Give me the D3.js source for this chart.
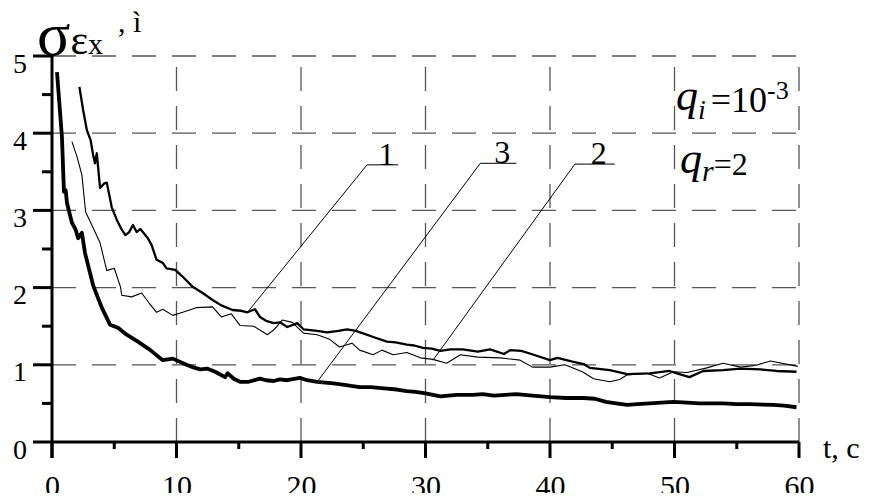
<!DOCTYPE html>
<html>
<head>
<meta charset="utf-8">
<script src="https://cdn.jsdelivr.net/npm/d3@7"></script>
<style>
body { margin: 0; background: #fff; color: #000; }
text { font-family: "Liberation Serif", "Times New Roman", serif; fill: #000; }
</style>
</head>
<body>
<div id="chart"></div>
<script>
// curve 1 (medium line)
var t1 = [2.2, 2.5, 2.8, 3.1, 3.3, 3.45, 3.6, 3.86, 4.2, 4.4, 4.8, 5.2, 5.6, 5.9, 6.2, 6.5, 6.8, 7.1, 7.7, 8.0,
          8.4, 8.9, 9.2, 9.9, 10.5, 11.3, 12.1, 12.9, 13.6, 14.5, 15.2, 15.7, 16.3, 16.7, 17.2, 17.8, 18.3, 18.9, 19.4, 19.7,
          20.2, 21.3, 22.1, 23.0, 23.7, 24.4, 25.1, 25.8, 26.9, 27.6, 28.5, 29.1, 29.8, 30.5, 31.2, 32.0, 33.0, 34.2, 35.2, 36.3,
          36.8, 37.7, 38.5, 40, 40.6, 41.8, 42.7, 43.2, 44.8, 46.2, 48, 49.6, 50.4, 51.2, 52.3, 53.9, 55.3, 56.9, 58.2, 59.8];
var s1 = [4.6, 4.3, 4.04, 3.91, 3.72, 3.61, 3.74, 3.29, 3.35, 3.36, 3.04, 2.88, 2.75, 2.68, 2.72, 2.81, 2.72, 2.76, 2.64, 2.55,
          2.36, 2.32, 2.25, 2.23, 2.14, 2.01, 1.93, 1.84, 1.77, 1.71, 1.70, 1.68, 1.72, 1.62, 1.57, 1.54, 1.55, 1.49, 1.52, 1.54,
          1.46, 1.44, 1.42, 1.44, 1.46, 1.44, 1.40, 1.36, 1.30, 1.29, 1.26, 1.25, 1.22, 1.21, 1.18, 1.20, 1.20, 1.17, 1.20, 1.14,
          1.19, 1.18, 1.14, 1.06, 1.09, 1.04, 1.01, 0.96, 0.93, 0.88, 0.89, 0.92, 0.88, 0.84, 0.92, 0.93, 0.95, 0.94, 0.92, 0.91];

// curve 2 (thin line)
var t2 = [1.6, 2.0, 2.4, 2.7, 3.0, 3.86, 4.4, 5.0, 5.5, 5.6, 6.4, 7.2, 7.8, 8.4, 8.9, 9.7, 10.5, 11.6, 12.9, 13.6,
          14.4, 15.1, 16.2, 17.3, 17.8, 18.5, 19.3, 20.2, 21.3, 22.3, 23.1, 24.1, 24.7, 25.8, 26.5, 27.4, 28.5, 29.6, 30.6, 31.7,
          32.8, 34.2, 36, 37.6, 38.6, 40, 41.2, 42.6, 43.5, 44.8, 45.6, 46.2, 47.8, 48.8, 49.9, 51, 52.6, 53.9, 55.3, 56.5,
          57.7, 59.9];
var s2 = [3.89, 3.7, 3.46, 2.98, 2.88, 2.58, 2.22, 2.25, 2.01, 1.90, 1.88, 1.93, 1.80, 1.68, 1.72, 1.64, 1.68, 1.74, 1.75, 1.62,
          1.66, 1.51, 1.50, 1.39, 1.45, 1.58, 1.55, 1.41, 1.39, 1.33, 1.23, 1.28, 1.19, 1.13, 1.19, 1.13, 1.16, 1.09, 1.07, 1.02,
          1.13, 1.10, 1.09, 1.06, 0.97, 0.97, 1.00, 0.91, 0.82, 0.78, 0.81, 0.87, 0.89, 0.83, 0.91, 0.90, 0.96, 1.02, 0.97, 0.99,
          1.05, 0.98];

// curve 3 (thick line)
var t3 = [0.4, 0.8, 0.96, 1.1, 1.2, 1.6, 1.9, 2.1, 2.4, 2.65, 3.3, 4.0, 4.66, 5.3, 6.0, 6.9, 7.9, 8.9, 9.7, 10.8,
          11.3, 11.9, 12.5, 13.1, 13.9, 14.1, 14.6, 15.1, 15.8, 16.7, 17.2, 17.8, 18.3, 18.9, 19.9, 20.5, 21.3, 22.6, 23.5, 24.7,
          25.6, 26.9, 27.7, 28.5, 29.2, 30, 31.2, 32.5, 33.8, 34.6, 35.5, 36.4, 37.3, 38.6, 40, 41.3, 42.7, 43.6, 44.5, 45.3,
          46.2, 47, 48, 49.9, 51, 52, 53.9, 55, 56, 57.9, 58.8, 59.8];
var s3 = [4.79, 3.95, 3.24, 3.26, 3.10, 2.84, 2.75, 2.64, 2.71, 2.45, 2.03, 1.74, 1.52, 1.48, 1.39, 1.30, 1.19, 1.06, 1.08, 1.00,
          0.97, 0.94, 0.95, 0.91, 0.84, 0.89, 0.82, 0.78, 0.78, 0.82, 0.80, 0.79, 0.81, 0.80, 0.83, 0.80, 0.78, 0.76, 0.74, 0.71,
          0.71, 0.69, 0.68, 0.66, 0.65, 0.63, 0.59, 0.61, 0.61, 0.62, 0.60, 0.61, 0.62, 0.60, 0.58, 0.57, 0.57, 0.56, 0.52, 0.50,
          0.48, 0.49, 0.50, 0.52, 0.51, 0.50, 0.50, 0.49, 0.49, 0.48, 0.47, 0.45];

var xTicks = [0, 10, 20, 30, 40, 50, 60];
var xMinor = [5, 15, 25, 35, 45, 55];
var yTicks = [0, 1, 2, 3, 4, 5];
var yMinor = [0.5, 1.5, 2.5, 3.5, 4.5];

// curve labels: name, point on curve, start and end of the underline (data units)
var labelNames = ["1", "3", "2"];
var labelCurveT = [15.8, 21.4, 30.6];
var labelCurveV = [1.70, 0.80, 1.06];
var labelLineT0 = [25.3, 34.4, 42.0];
var labelLineT1 = [27.8, 37.3, 45.2];
var labelLineV = [3.59, 3.61, 3.60];

var width = 878, height = 503;

var svg = d3.select("#chart").append("svg")
    .attr("width", width)
    .attr("height", height)
    .style("background", "#fff");

var x = d3.scaleLinear().domain([0, 60]).range([52, 799]);
var y = d3.scaleLinear().domain([0, 5]).range([442, 56]);

// dashed grid
svg.append("g").selectAll("line")
  .data(yTicks.slice(1))
  .join("line")
    .attr("x1", x(0)).attr("x2", x(60))
    .attr("y1", function(d) { return y(d); })
    .attr("y2", function(d) { return y(d); })
    .attr("stroke", "#555").attr("stroke-width", 1.3)
    .attr("stroke-dasharray", "24,16");

svg.append("g").selectAll("line")
  .data(xTicks.slice(1))
  .join("line")
    .attr("x1", function(d) { return x(d); })
    .attr("x2", function(d) { return x(d); })
    .attr("y1", y(0)).attr("y2", y(5))
    .attr("stroke", "#555").attr("stroke-width", 1.3)
    .attr("stroke-dasharray", "24,15");

// curves
var line = d3.line()
  .x(function(d) { return x(d[0]); })
  .y(function(d) { return y(d[1]); });

function pairs(t, s) { return t.map(function(d, i) { return [d, s[i]]; }); }

svg.append("path").datum(pairs(t2, s2))
  .attr("d", line).attr("fill", "none").attr("stroke", "#000")
  .attr("stroke-width", 1.1).attr("stroke-linejoin", "round");
svg.append("path").datum(pairs(t1, s1))
  .attr("d", line).attr("fill", "none").attr("stroke", "#000")
  .attr("stroke-width", 2.3).attr("stroke-linejoin", "round");
svg.append("path").datum(pairs(t3, s3))
  .attr("d", line).attr("fill", "none").attr("stroke", "#000")
  .attr("stroke-width", 3.8).attr("stroke-linejoin", "round");

// leader lines and curve numbers
labelNames.forEach(function(name, i) {
  svg.append("line")
    .attr("x1", x(labelCurveT[i])).attr("y1", y(labelCurveV[i]))
    .attr("x2", x(labelLineT0[i])).attr("y2", y(labelLineV[i]))
    .attr("stroke", "#000").attr("stroke-width", 1);
  svg.append("line")
    .attr("x1", x(labelLineT0[i])).attr("y1", y(labelLineV[i]))
    .attr("x2", x(labelLineT1[i])).attr("y2", y(labelLineV[i]))
    .attr("stroke", "#000").attr("stroke-width", 1);
  svg.append("text")
    .attr("x", (x(labelLineT0[i]) + x(labelLineT1[i])) / 2 + 4)
    .attr("y", y(labelLineV[i]))
    .attr("text-anchor", "middle")
    .attr("font-size", 32)
    .text(name);
});

// axis lines and ticks, drawn from the scales
var axes = svg.append("g").attr("stroke", "#000").attr("stroke-width", 3);
axes.append("line")
  .attr("x1", x(0)).attr("x2", x(0)).attr("y1", y(5)).attr("y2", y(0) + 16);
axes.append("line")
  .attr("x1", x(0)).attr("x2", x(60)).attr("y1", y(0)).attr("y2", y(0));
axes.selectAll(".ymaj").data(yTicks).join("line").attr("class", "ymaj")
  .attr("x1", x(0) - 19).attr("x2", x(0))
  .attr("y1", function(d) { return y(d); }).attr("y2", function(d) { return y(d); });
axes.selectAll(".ymin").data(yMinor).join("line").attr("class", "ymin")
  .attr("x1", x(0) - 10).attr("x2", x(0))
  .attr("y1", function(d) { return y(d); }).attr("y2", function(d) { return y(d); });
axes.selectAll(".xmaj").data(xTicks).join("line").attr("class", "xmaj")
  .attr("x1", function(d) { return x(d); }).attr("x2", function(d) { return x(d); })
  .attr("y1", y(0)).attr("y2", y(0) + 16);
axes.selectAll(".xmin").data(xMinor).join("line").attr("class", "xmin")
  .attr("x1", function(d) { return x(d); }).attr("x2", function(d) { return x(d); })
  .attr("y1", y(0)).attr("y2", y(0) + 7);

// tick labels from d3 axes
var gy = svg.append("g")
  .attr("transform", "translate(" + x(0) + ",0)")
  .call(d3.axisLeft(y).tickValues(yTicks).tickSize(19).tickPadding(6).tickFormat(d3.format("d")));
gy.select(".domain").remove();
gy.selectAll(".tick line").remove();
gy.attr("font-family", null).attr("font-size", 28);
gy.selectAll(".tick text").attr("dy", null).attr("y", 16);

// x labels cut at the lower edge as in the scan
svg.append("defs").append("clipPath").attr("id", "cut")
  .append("rect").attr("x", 0).attr("y", 0).attr("width", width).attr("height", 493);

var gx = svg.append("g").attr("clip-path", "url(#cut)").append("g")
  .attr("transform", "translate(0," + y(0) + ")")
  .call(d3.axisBottom(x).tickValues(xTicks).tickSize(16).tickFormat(d3.format("d")));
gx.select(".domain").remove();
gx.selectAll(".tick line").remove();
gx.attr("font-family", null).attr("font-size", 30);
gx.selectAll(".tick text").attr("dy", null).attr("y", 54);

svg.append("text")
  .attr("x", 823).attr("y", 458)
  .attr("font-size", 30)
  .text("t, c");

// axis title
var title = svg.append("text").attr("x", 37).attr("y", 55);
title.append("tspan").attr("font-size", 62).text("σ");
title.append("tspan").attr("font-size", 42).attr("dy", -1).text("ε");
title.append("tspan").attr("font-size", 30).text("x");
svg.append("text")
  .attr("x", 118).attr("y", 32)
  .attr("font-size", 30)
  .text(", ì");

// parameters
var qi = svg.append("text").attr("x", 676).attr("y", 110);
qi.append("tspan").attr("font-size", 44).attr("font-style", "italic").text("q");
qi.append("tspan").attr("font-size", 28).attr("font-style", "italic").attr("dy", 9).text("i");
qi.append("tspan").attr("font-size", 36).attr("dy", -7).attr("dx", 5).text("=10");
qi.append("tspan").attr("font-size", 26).attr("dy", -13).text("-3");

var qr = svg.append("text").attr("x", 680).attr("y", 173);
qr.append("tspan").attr("font-size", 44).attr("font-style", "italic").text("q");
qr.append("tspan").attr("font-size", 30).attr("font-style", "italic").attr("dy", 8).text("r");
qr.append("tspan").attr("font-size", 32).attr("dy", -6).text("=2");
</script>
</body>
</html>
